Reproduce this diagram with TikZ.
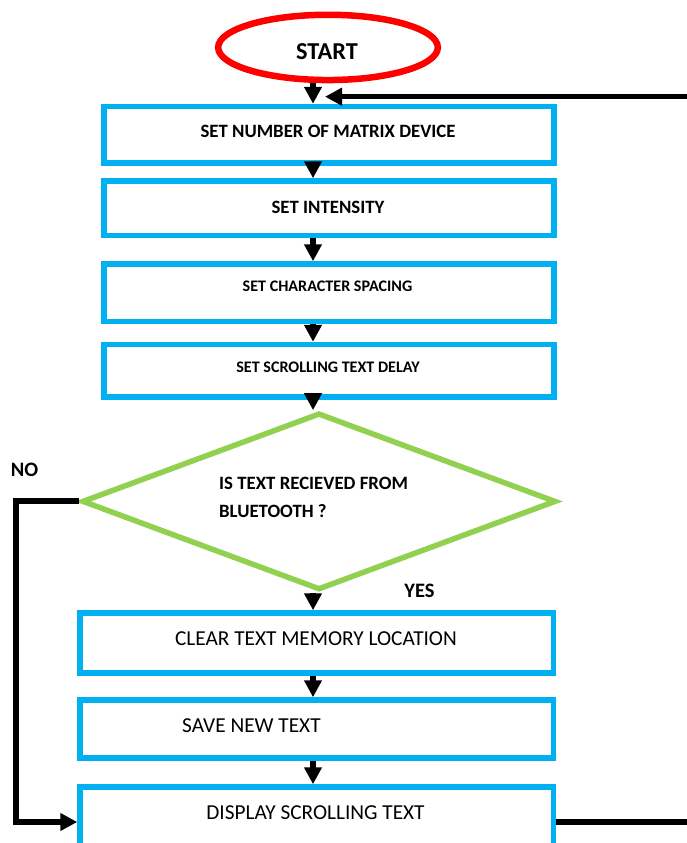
\documentclass[tikz,border=0pt]{standalone}
\usepackage{fontspec}
\setmainfont{Carlito}
\usetikzlibrary{shapes.geometric,arrows.meta}
\definecolor{boxblue}{HTML}{00B0F0}
\definecolor{decgreen}{HTML}{92D050}
\definecolor{startred}{HTML}{FF0000}
\begin{document}
\begin{tikzpicture}[x=1pt,y=-1pt,
  box/.style={draw=boxblue,line width=5.5pt,rectangle,inner sep=0pt,minimum width=450pt},
  lowbox/.style={box,minimum width=473.5pt},
  startnode/.style={draw=startred,line width=6.5pt,ellipse,inner sep=0pt,minimum width=219.7pt,minimum height=65.3pt},
  decision/.style={draw=decgreen,line width=5.5pt,diamond,inner sep=0pt,minimum width=474pt,minimum height=177pt},
  txt/.style={inner sep=0pt,text=black},
  bigb/.style={txt,font=\bfseries\fontsize{18.8}{22}\selectfont},
  smallb/.style={txt,font=\bfseries\fontsize{16.1}{19}\selectfont},
  reg/.style={txt,font=\fontsize{21.3}{25}\selectfont},
  arr/.style={draw=black,line width=6pt,-{Triangle[length=17pt,width=17pt]}},
  looparr/.style={arr,line width=5.5pt}
]
\useasboundingbox (0,0) rectangle (687,843);
\coordinate (sp) at (313,0);
\coordinate (nx) at (15.5,0);
\coordinate (rx) at (700,0);
\coordinate (lt) at (325,96.7);

\node[startnode] (start) at (328,47.4) {};
\node[txt,font=\bfseries\fontsize{24.3}{28}\selectfont] (tstart) at (327,51.7) {START};

\node[box,minimum height=56.5pt] (b1) at (329,134.75) {};
\node[bigb] (t1) at (328,131) {SET NUMBER OF MATRIX DEVICE};
\node[box,minimum height=54.5pt] (b2) at (329,208.25) {};
\node[bigb] (t2) at (328,207) {SET INTENSITY};
\node[box,minimum height=57.5pt] (b3) at (329,292.75) {};
\node[smallb] (t3) at (327.5,286.7) {SET CHARACTER SPACING};
\node[box,minimum height=52.5pt] (b4) at (329,370.75) {};
\node[smallb] (t4) at (328,367) {SET SCROLLING TEXT DELAY};

\node[decision] (dec) at (319,501.4) {};
\node[txt,font=\bfseries\fontsize{18.8}{28}\selectfont,align=left,anchor=west] (dtext) at (219,497) {IS TEXT RECIEVED FROM\\BLUETOOTH ?};
\node[txt,font=\bfseries\fontsize{20.5}{24}\selectfont] (no) at (24.5,470) {NO};
\node[txt,font=\bfseries\fontsize{20.5}{24}\selectfont] (yes) at (419.5,591) {YES};

\node[lowbox,minimum height=60pt] (b5) at (316.75,643) {};
\node[reg] (t5) at (316,639) {CLEAR TEXT MEMORY LOCATION};
\node[lowbox,minimum height=58pt] (b6) at (316.75,729) {};
\node[reg,anchor=west] (t6) at (182,726) {SAVE NEW TEXT};
\node[lowbox,minimum height=59pt] (b7) at (316.75,816.5) {};
\node[reg] (t7) at (315.5,813) {DISPLAY SCROLLING TEXT};

\draw[arr] (start.south -| sp) -- (b1.north -| sp);
\draw[arr] (b1.south -| sp) -- (b2.north -| sp);
\draw[arr] (b2.south -| sp) -- (b3.north -| sp);
\draw[arr] (b3.south -| sp) -- (b4.north -| sp);
\draw[arr] (b4.south -| sp) -- (dec.north -| sp);
\draw[arr] (dec.south -| sp) -- (b5.north -| sp);
\draw[arr] (b5.south -| sp) -- (b6.north -| sp);
\draw[arr] (b6.south -| sp) -- (b7.north -| sp);

\draw[arr] (dec.west) -- (dec.west -| nx) |- ([yshift=-5.5pt]b7.west);
\draw[looparr] ([yshift=-5.5pt]b7.east) -| (rx |- lt) -- (lt);
\end{tikzpicture}
\end{document}
